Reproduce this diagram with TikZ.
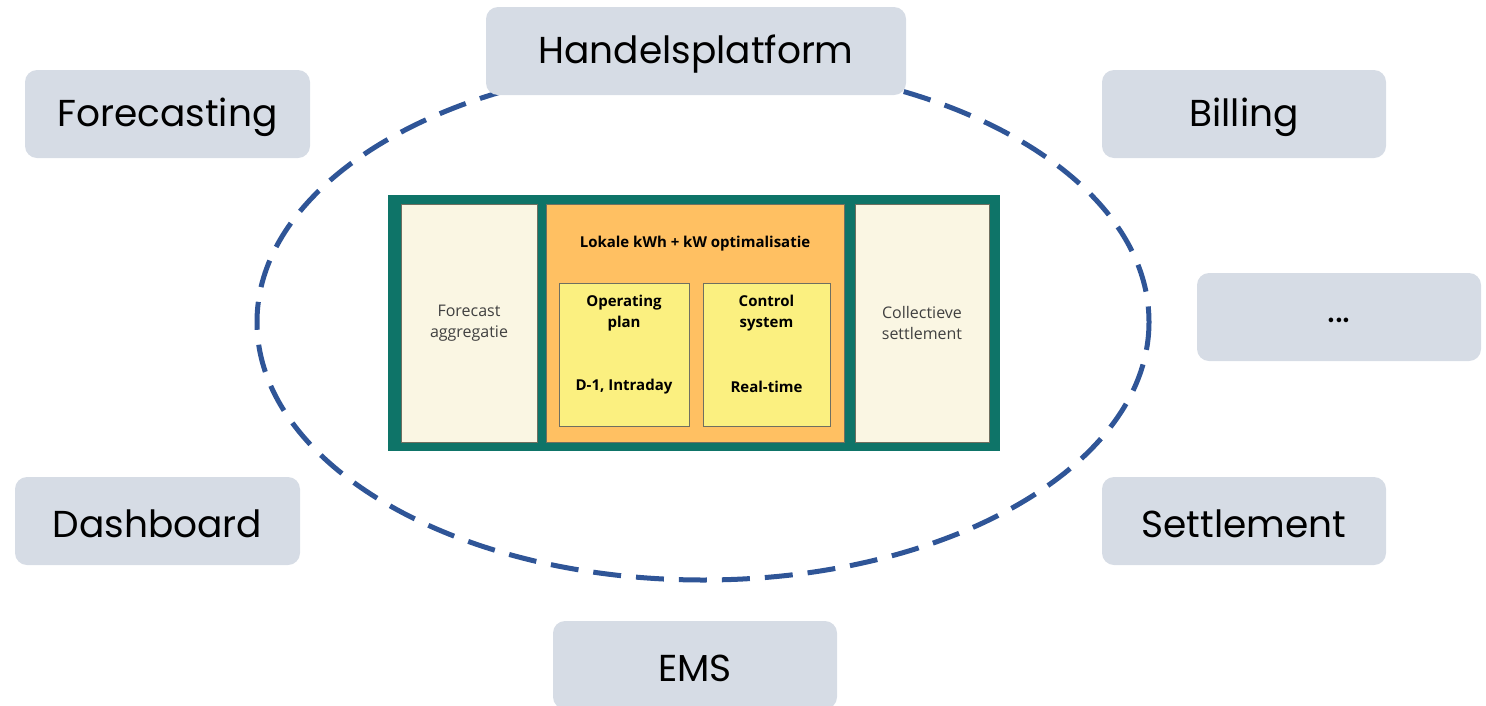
\documentclass[tikz,border=0pt]{standalone}
\usepackage{fontspec}
\setmainfont{Poppins}
\newfontfamily\innerfont{Open Sans}
\definecolor{boxgray}{HTML}{D6DCE5}
\definecolor{ellblue}{HTML}{2F5597}
\definecolor{teal}{HTML}{0E7468}
\definecolor{cream}{HTML}{FAF6E3}
\definecolor{orangebg}{HTML}{FFC062}
\definecolor{yellowbg}{HTML}{FBF080}
\definecolor{panelborder}{HTML}{6F6F60}
\definecolor{graytext}{HTML}{404040}
\newcommand{\lowtxt}[1]{\raisebox{-3pt}[\height][\depth]{#1}}
\tikzset{
  outerbox/.style={fill=boxgray, rounded corners=12pt, minimum width=285pt, minimum height=88pt, inner sep=0pt, font=\fontsize{37.5}{44}\selectfont, text=black},
  panel/.style={draw=panelborder, line width=1pt, inner sep=0pt},
  panelcream/.style={panel, fill=cream},
  panelorange/.style={panel, fill=orangebg},
  panelyellow/.style={panel, fill=yellowbg},
  boldtxt/.style={font=\innerfont\bfseries\fontsize{15}{21}\selectfont, align=center, text=black, inner sep=0pt},
  regtxt/.style={font=\innerfont\fontsize{16}{21}\selectfont, align=center, text=graytext, inner sep=0pt},
  ring/.style={draw=ellblue, line width=5pt, dash pattern=on 28pt off 15pt}
}
\begin{document}
\begin{tikzpicture}[x=1pt,y=-1pt]
\useasboundingbox (0,0) rectangle (1486,705);
\begin{scope}
\clip (0,0) rectangle (1486,705);
% dashed ellipse
\draw[ring] (703,322) ellipse [x radius=446, y radius=258];
% outer boxes
\node[outerbox, minimum width=420pt] (handel) at (696,51) {\lowtxt{Handelsplatform}};
\node[outerbox] (forecasting) at (167.5,114) {\lowtxt{Forecasting}};
\node[outerbox, minimum width=284pt] (billing) at (1244,114) {\lowtxt{Billing}};
\node[outerbox, minimum width=284pt] (dots) at (1339,317) {\lowtxt{...}};
\node[outerbox] (dashboard) at (157.5,521) {\lowtxt{Dashboard}};
\node[outerbox, minimum width=284pt] (settlement) at (1244,521) {\lowtxt{Settlement}};
\node[outerbox, minimum width=284pt] (ems) at (695,665) {\lowtxt{EMS}};
% inner diagram
\node[fill=teal, minimum width=612pt, minimum height=256pt, inner sep=0pt] (core) at (694,323) {};
\node[panelcream, minimum width=136pt, minimum height=238pt] (left) at (469,323) {};
\node[panelorange, minimum width=298pt, minimum height=238pt] (mid) at (695,323) {};
\node[panelcream, minimum width=134pt, minimum height=238pt] (right) at (922,323) {};
\node[panelyellow, minimum width=130pt, minimum height=143pt] (opplan) at (624,354.5) {};
\node[panelyellow, minimum width=127pt, minimum height=143pt] (ctrl) at (766.5,354.5) {};
\node[boldtxt] (title) at (695,244) {Lokale kWh + kW optimalisatie};
\node[boldtxt] (optxt) at (624,313) {Operating\\plan};
\node[boldtxt] (optime) at (624,387) {D-1, Intraday};
\node[boldtxt] (ctxt) at (766.5,313) {Control\\system};
\node[boldtxt] (ctime) at (766.5,387) {Real-time};
\node[regtxt] (fctxt) at (469,323) {Forecast\\aggregatie};
\node[regtxt] (settxt) at (922,323) {Collectieve\\settlement};
\end{scope}
\end{tikzpicture}
\end{document}
